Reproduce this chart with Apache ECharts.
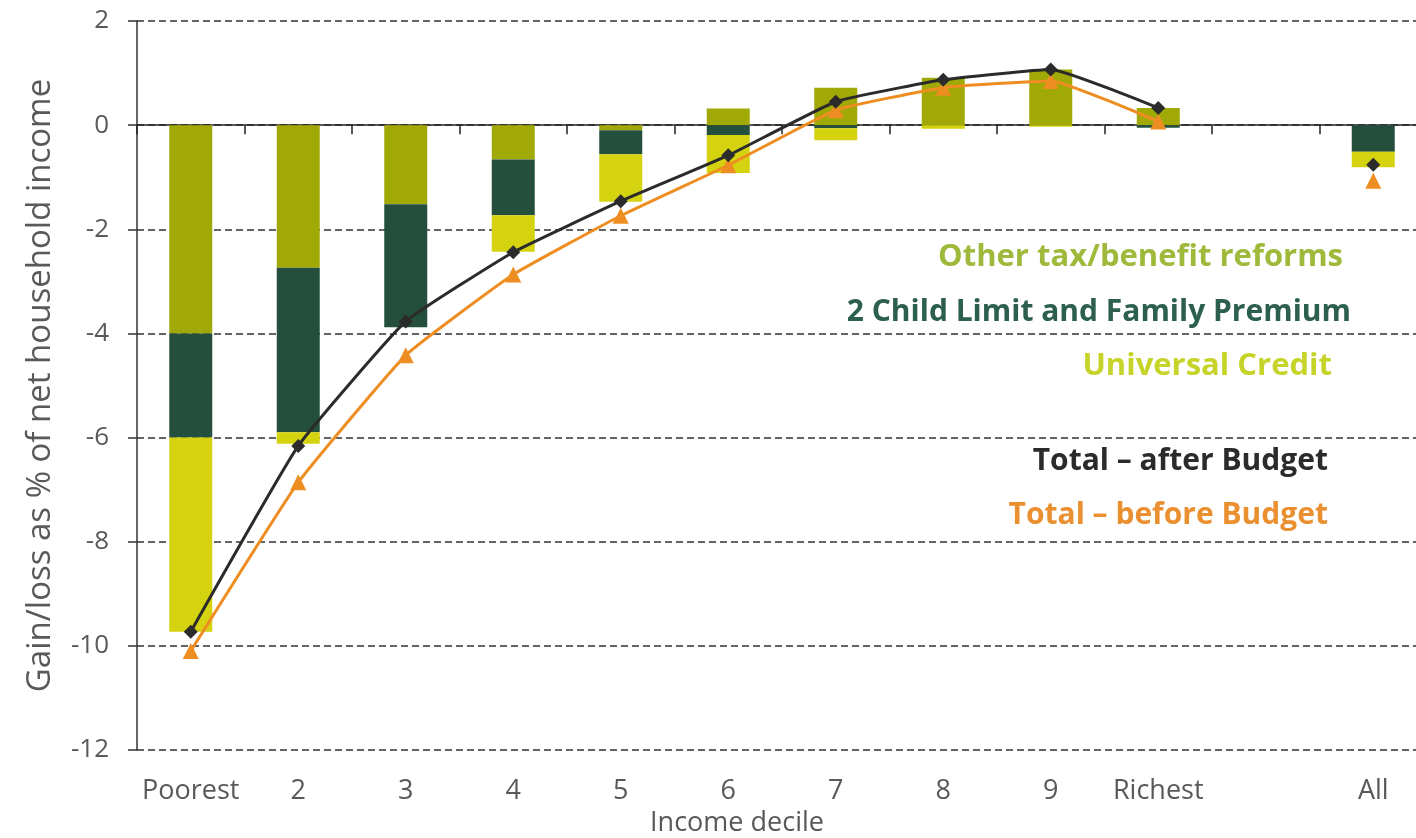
<!DOCTYPE html>
<html>
<head>
<meta charset="utf-8">
<script src="https://cdn.jsdelivr.net/npm/echarts@6/dist/echarts.min.js"></script>
<style>html,body{margin:0;padding:0;background:#fff;overflow:hidden;}#c{width:1440px;height:838px;}</style>
</head>
<body>
<div id="c"></div>
<script>
const categories = ['Poorest', '2', '3', '4', '5', '6', '7', '8', '9', 'Richest', '', 'All'];
const otherReforms = [-4.0, -2.74, -1.52, -0.66, -0.1, 0.32, 0.72, 0.91, 1.07, 0.33, null, 0];
const childLimit = [-2.0, -3.16, -2.36, -1.07, -0.46, -0.19, -0.06, 0, 0, -0.05, null, -0.51];
const universalCredit = [-3.73, -0.22, 0, -0.70, -0.91, -0.73, -0.23, -0.07, -0.03, 0, null, -0.30];
const totalAfter = [-9.73, -6.16, -3.77, -2.44, -1.46, -0.58, 0.45, 0.87, 1.07, 0.33, null, -0.76];
const totalBefore = [-10.1, -6.86, -4.42, -2.87, -1.74, -0.77, 0.29, 0.72, 0.85, 0.07, null, -1.07];
const yTicks = { min: -12, max: 2, interval: 2 };

const FONT = '"Open Sans", sans-serif';
const chart = echarts.init(document.getElementById('c'));
chart.setOption({
  animation: false,
  backgroundColor: '#ffffff',
  grid: { left: 137, top: 21, width: 1290, height: 729, containLabel: false, outerBoundsMode: 'none' },
  xAxis: [
    {
      type: 'category', data: categories, position: 'bottom',
      axisLine: { show: false, onZero: false }, axisTick: { show: false },
      axisLabel: { color: '#595959', fontSize: 27, fontFamily: FONT, margin: 28, interval: 0 },
      name: 'Income decile', nameLocation: 'middle', nameGap: 57,
      nameTextStyle: { color: '#595959', fontSize: 27, fontFamily: FONT, padding: [0, 90, 0, 0] }
    },
    {
      type: 'category', data: categories, position: 'bottom',
      axisLine: { show: true, onZero: true, lineStyle: { color: '#222', width: 1.5 } },
      axisTick: { show: true, length: 9, lineStyle: { color: '#222', width: 1.5 } },
      axisLabel: { show: false }
    }
  ],
  yAxis: {
    type: 'value', min: yTicks.min, max: yTicks.max, interval: yTicks.interval,
    axisLine: { show: true, lineStyle: { color: '#333', width: 1.5 } },
    axisTick: { show: true, length: 9, lineStyle: { color: '#333', width: 1.5 } },
    axisLabel: { color: '#595959', fontSize: 26, fontFamily: FONT, margin: 28 },
    splitLine: { show: true, lineStyle: { color: '#333', width: 1.5, type: [7, 4] } },
    name: 'Gain/loss as % of net household income', nameLocation: 'middle', nameGap: 80,
    nameTextStyle: { color: '#595959', fontSize: 33, fontFamily: FONT }
  },
  series: [
    { name: 'Other tax/benefit reforms', type: 'bar', stack: 'a', data: otherReforms, barWidth: 43,
      itemStyle: { color: '#a0a906' } },
    { name: '2 Child Limit and Family Premium', type: 'bar', stack: 'a', data: childLimit, barWidth: 43,
      itemStyle: { color: '#234f3c' } },
    { name: 'Universal Credit', type: 'bar', stack: 'a', data: universalCredit, barWidth: 43,
      itemStyle: { color: '#d5d30f' } },
    { name: 'Total – before Budget', type: 'line', data: totalBefore, connectNulls: false, smooth: 0.12,
      symbol: 'triangle', symbolSize: 16, z: 5,
      lineStyle: { color: '#ee8e22', width: 3 }, itemStyle: { color: '#ee8e22' } },
    { name: 'Total – after Budget', type: 'line', data: totalAfter, connectNulls: false, smooth: 0.12,
      symbol: 'diamond', symbolSize: 14, z: 6,
      lineStyle: { color: '#2b2b2b', width: 3 }, itemStyle: { color: '#2b2b2b' } }
  ],
  graphic: [
    { type: 'text', x: 1343, y: 257, style: { text: 'Other tax/benefit reforms', align: 'right', verticalAlign: 'middle', font: 'bold 31px ' + FONT, fill: '#9fb93b' } },
    { type: 'text', x: 1351, y: 312, style: { text: '2 Child Limit and Family Premium', align: 'right', verticalAlign: 'middle', font: 'bold 30px ' + FONT, fill: '#2d5f4e' } },
    { type: 'text', x: 1332, y: 366, style: { text: 'Universal Credit', align: 'right', verticalAlign: 'middle', font: 'bold 31px ' + FONT, fill: '#c6d42a' } },
    { type: 'text', x: 1328, y: 461, style: { text: 'Total – after Budget', align: 'right', verticalAlign: 'middle', font: 'bold 30px ' + FONT, fill: '#2b2b2b' } },
    { type: 'text', x: 1328, y: 515, style: { text: 'Total – before Budget', align: 'right', verticalAlign: 'middle', font: 'bold 30px ' + FONT, fill: '#ea9030' } }
  ]
});
</script>
</body>
</html>
